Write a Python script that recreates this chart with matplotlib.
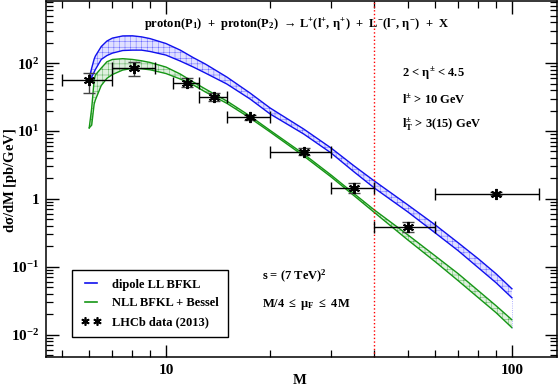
import numpy as np
import matplotlib
matplotlib.use("Agg")
import matplotlib.pyplot as plt
from matplotlib.lines import Line2D
from matplotlib.ticker import FixedLocator, FuncFormatter, LogLocator, NullFormatter

plt.rcParams['font.family'] = ['Liberation Serif', 'DejaVu Serif', 'DejaVu Sans']
plt.rcParams['font.weight'] = 'bold'
plt.rcParams['mathtext.fontset'] = 'custom'
plt.rcParams['mathtext.rm'] = 'Liberation Serif:bold'
plt.rcParams['mathtext.it'] = 'Liberation Serif:bold'
plt.rcParams['mathtext.bf'] = 'Liberation Serif:bold'
plt.rcParams['hatch.linewidth'] = 0.35

# --- theory bands (M in GeV, dsigma/dM in pb/GeV) ---
M = [6, 6.1, 6.2, 6.25, 6.5, 6.75, 7, 7.5, 8, 8.5, 9, 10, 11, 12, 13, 15,
     17.5, 20, 25, 30, 35, 40, 50, 60, 70, 80, 90, 100]

dipole_hi = [60.2, 84.4, 114.5, 126.8, 175, 211, 233, 251, 252, 243, 229, 194, 155, 120,
             96.7, 62.2, 36.2, 21.8, 10.7, 5.62, 3.05, 1.84, 0.817, 0.415, 0.225, 0.131,
             0.0789, 0.0475]
dipole_lo = [57.2, 62.2, 73.8, 80.2, 113, 129, 140, 153, 155, 155, 148, 131, 107, 87.3,
             71.3, 49.1, 29.6, 17.8, 9.04, 4.75, 2.49, 1.45, 0.644, 0.316, 0.172, 0.0967,
             0.0582, 0.035]

nll_hi = [11.1, 21.8, 56.2, 66.7, 84.4, 104.5, 113, 116, 113, 108, 102, 87.3, 68.9, 52.6,
          41.5, 27.6, 16.6, 10.2, 4.59, 2.25, 1.19, 0.689, 0.296, 0.145, 0.0789, 0.0444,
          0.0267, 0.0166]
nll_lo = [11.1, 12.2, 24.9, 28.6, 46.7, 59.6, 67.8, 78.9, 83.6, 82.4, 79.6, 70.1, 58.2, 47.5,
          37.5, 25.5, 15.5, 9.66, 4.29, 2.11, 1.11, 0.633, 0.249, 0.119, 0.0622, 0.035,
          0.0211, 0.0127]

# --- LHCb data (2013) ---
bin_lo = [5, 7, 10.5, 12.5, 15, 20, 30, 40, 60]
bin_hi = [7, 9.3, 12.5, 15, 20, 30, 40, 60, 120]
data_M = [6, 8.1, 11.5, 13.8, 17.5, 25, 35, 50, 90]
data_y = [56, 85, 51, 31.6, 16.1, 4.9, 1.45, 0.387, 1.2]
err_up = [16, 19.5, 9, 4.6, 1.1, 0.7, 0.29, 0.068, 0.06]
err_dn = [19.5, 20, 7, 4.0, 1.6, 0.5, 0.22, 0.057, 0.06]

M_cut = 40

fig = plt.figure(figsize=(5.59, 3.89), dpi=100)
ax = fig.add_axes([46/559, 1 - 357/389, 511/559, 356/389])

blue = '#1010ee'
green = '#159615'

# bands: light fill + fine hatch + solid edges
ax.fill_between(M, dipole_lo, dipole_hi, facecolor='#e0e0ff', edgecolor='#6a6aff',
                hatch='+++', linewidth=0)
ax.plot(M, dipole_hi, color=blue, lw=1.0)
ax.plot(M, dipole_lo, color=blue, lw=1.0)

ax.fill_between(M, nll_lo, nll_hi, facecolor='#dff0df', edgecolor='#5aae5a',
                hatch='+++', linewidth=0)
ax.plot(M, nll_hi, color=green, lw=1.0)
ax.plot(M, nll_lo, color=green, lw=1.0)

ax.vlines(M[-1], nll_lo[-1], dipole_lo[-1], color='#9999ff', lw=0.6, linestyles=':')

ax.axvline(M_cut, color='red', ls=':', lw=1.0)

dm = np.array(data_M)
xerr = [dm - np.array(bin_lo), np.array(bin_hi) - dm]
ax.errorbar(data_M, data_y, xerr=xerr, fmt='none', ecolor='black', elinewidth=1.0,
            capsize=4, capthick=1.0)
ax.errorbar(data_M, data_y, yerr=[err_dn, err_up], fmt='none', ecolor='#444444',
            elinewidth=1.0, capsize=4, capthick=1.0)
ax.plot(data_M, data_y, ls='none', marker=(6, 2, 0), ms=8, mew=1.4, color='black')

ax.set_xscale('log')
ax.set_yscale('log')
ax.set_xlim(4.5, 135)
ax.set_ylim(0.0047, 820)

ax.xaxis.set_major_locator(FixedLocator([10, 100]))
ax.xaxis.set_major_formatter(FuncFormatter(lambda v, p: '%d' % round(v)))
ax.xaxis.set_minor_locator(LogLocator(base=10, subs=np.arange(2, 10)))
ax.xaxis.set_minor_formatter(NullFormatter())


def ylab(v, p):
    e = int(round(np.log10(v)))
    if e == 0:
        return '1'
    return r'$10^{%d}$' % e


ax.yaxis.set_major_locator(FixedLocator([1e-2, 1e-1, 1, 10, 100]))
ax.yaxis.set_major_formatter(FuncFormatter(ylab))
ax.yaxis.set_minor_locator(LogLocator(base=10, subs=np.arange(2, 10)))
ax.yaxis.set_minor_formatter(NullFormatter())

ax.tick_params(which='both', direction='in', top=True, right=True, labelsize=11)
ax.tick_params(which='major', length=9, width=1.0, pad=5)
ax.tick_params(which='minor', length=5, width=0.9)
for s in ax.spines.values():
    s.set_linewidth(1.1)

fig.text(300/559, 1 - 380/389, 'M', ha='center', va='center', fontsize=10.5)
fig.text(11/559, 1 - 180/389, r'd$\sigma$/dM [pb/GeV]', ha='center', va='center',
         rotation=90, fontsize=10.5)

fig.text(297/559, 1 - 25/389,
         r'proton(P$_1$)  +  proton(P$_2$)  ' + '\u2192' +
         r' L$^{+}$(l$^{+}$, $\eta^{+}$)  +  L$^{-}$(l$^{-}$, $\eta^{-}$)  +  X',
         ha='center', va='center', fontsize=9)
fig.text(402/559, 1 - 74/389, r'2 < $\eta^{\pm}$ < 4.5', ha='left', va='center', fontsize=9)
fig.text(402/559, 1 - 100/389, r'l$^{\pm}$ > 10 GeV', ha='left', va='center', fontsize=9)
fig.text(402/559, 1 - 125/389, r'l$_{\rm T}^{\pm}$ > 3(15) GeV', ha='left', va='center', fontsize=9)
fig.text(262/559, 1 - 276/389, r's = (7 TeV)$^{2}$', ha='left', va='center', fontsize=9)
fig.text(262/559, 1 - 304/389, r'M/4 $\leq$ $\mu_{\rm F}$ $\leq$ 4M', ha='left', va='center', fontsize=9)

handles = [Line2D([], [], color=blue, lw=1.2),
           Line2D([], [], color=green, lw=1.2),
           Line2D([], [], ls='none', marker=(6, 2, 0), ms=6, mew=1.2, color='black')]
labels = ['dipole LL BFKL', 'NLL BFKL + Bessel', 'LHCb data (2013)']
leg = ax.legend(handles, labels, loc='lower left', bbox_to_anchor=(0.051, 0.056),
                numpoints=2, fontsize=9, frameon=True, fancybox=False, framealpha=1,
                edgecolor='black', handlelength=1.6, handletextpad=0.9,
                labelspacing=0.55, borderpad=0.7, borderaxespad=0)
leg.get_frame().set_linewidth(1.0)

fig.savefig('out.png', dpi=100)
